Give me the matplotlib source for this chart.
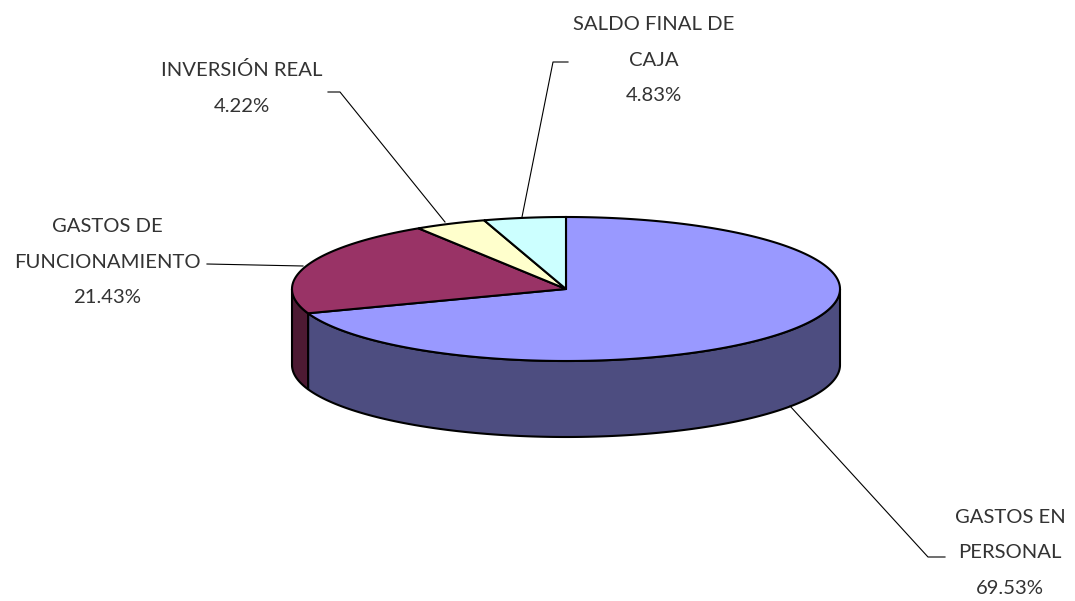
import numpy as np
import matplotlib
matplotlib.use("Agg")
import matplotlib.pyplot as plt
from matplotlib.patches import Polygon

labels = ["GASTOS EN\nPERSONAL", "GASTOS DE\nFUNCIONAMIENTO", "INVERSIÓN REAL", "SALDO FINAL DE\nCAJA"]
values = [69.53, 21.43, 4.22, 4.83]
top_colors = ["#9999FF", "#993366", "#FFFFCC", "#CCFFFF"]
side_colors = ["#4D4D80", "#4D1A33", "#80805F", "#668080"]

# pie geometry in pixels
cx, cy = 566, 289
rx, ry = 274, 72
depth = 76

# label text position, and the leader line from the label to the pie
label_pos = [(1010, 553), (107, 262), (242, 88), (654, 60)]
leaders = [
    [(945, 557), (928, 557), (790, 406)],
    [(207, 264), (303, 266)],
    [(328, 92), (340, 92), (445, 222)],
    [(568, 62), (553, 62), (522, 217)],
]

plt.rcParams['font.family'] = ['Lato', 'DejaVu Sans']

fig = plt.figure(figsize=(10.75, 6.01), dpi=100)
ax = fig.add_axes([0, 0, 1, 1])
ax.set_xlim(0, 1075)
ax.set_ylim(601, 0)
ax.axis('off')


def rim(a1, a2):
    t = np.radians(np.linspace(a1, a2, 300))
    return np.column_stack([cx + rx * np.cos(t), cy - ry * np.sin(t)])


start = 90.0
angles = []
for v in values:
    end = start - v / sum(values) * 360
    angles.append((start, end))
    start = end

# sides first, only the part of the rim that faces the viewer
for (a1, a2), col in zip(angles, side_colors):
    lo, hi = max(a2, -180), min(a1, 0)
    if a1 > -180 and lo < hi:
        edge = rim(hi, lo)
        low = edge[::-1] + [0, depth]
        ax.add_patch(Polygon(np.vstack([edge, low]), closed=True, fc=col, ec='black', lw=1.5, zorder=2))

# top faces
for (a1, a2), col in zip(angles, top_colors):
    pts = np.vstack([[cx, cy], rim(a1, a2)])
    ax.add_patch(Polygon(pts, closed=True, fc=col, ec='black', lw=1.5, zorder=3))

for lab, v, pos, line in zip(labels, values, label_pos, leaders):
    xs, ys = zip(*line)
    ax.plot(xs, ys, color='black', lw=0.8, zorder=4)
    ax.text(pos[0], pos[1], f"{lab}\n{v:.2f}%", ha='center', va='center', fontsize=14.6,
            color='#333333', linespacing=2.3, zorder=5)

fig.savefig("out.png", dpi=100)
